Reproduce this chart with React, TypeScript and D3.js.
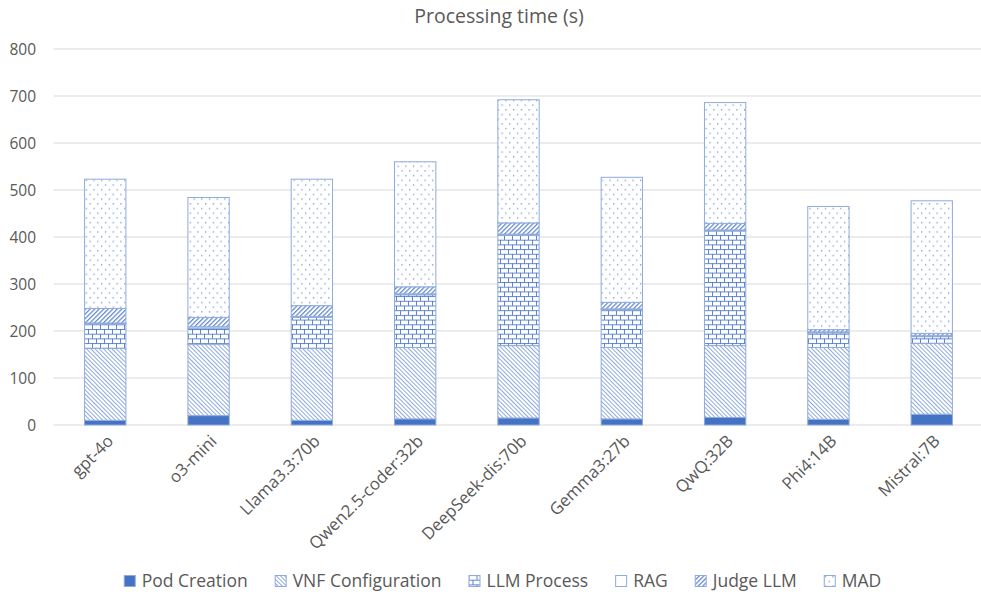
import React from "react";
import * as d3 from "d3";

// Processing time (seconds) per model, split by pipeline stage
const models = [
  "gpt-4o",
  "o3-mini",
  "Llama3.3:70b",
  "Qwen2.5-coder:32b",
  "DeepSeek-dis:70b",
  "Gemma3:27b",
  "QwQ:32B",
  "Phi4:14B",
  "Mistral:7B",
];

const stages = ["Pod Creation", "VNF Configuration", "LLM Process", "RAG", "Judge LLM", "MAD"];

const podCreation = [10, 20, 10, 13, 15, 13, 16, 12, 23];
const vnfConfiguration = [153, 152, 153, 152, 154, 152, 153, 153, 151];
const llmProcess = [52, 34, 66, 112, 235, 80, 244, 31, 14];
const rag = [2, 3, 2, 2, 2, 2, 2, 2, 2];
const judgeLlm = [31, 20, 23, 15, 24, 14, 14, 5, 5];
const mad = [275, 255, 269, 266, 262, 266, 257, 262, 282];

const yTicks = [0, 100, 200, 300, 400, 500, 600, 700, 800];

const W = 981;
const H = 597;
const FONT = "'Open Sans', 'DejaVu Sans', sans-serif";
const TEXT = "#595959";
const BLUE = "#4472C4";
const EDGE = "#8FAADC";

const rows = models.map((m, i) => ({
  model: m,
  "Pod Creation": podCreation[i],
  "VNF Configuration": vnfConfiguration[i],
  "LLM Process": llmProcess[i],
  RAG: rag[i],
  "Judge LLM": judgeLlm[i],
  MAD: mad[i],
}));

const fills: Record<string, string> = {
  "Pod Creation": BLUE,
  "VNF Configuration": "url(#pat-vnf)",
  "LLM Process": "url(#pat-brick)",
  RAG: "#ffffff",
  "Judge LLM": "url(#pat-judge)",
  MAD: "url(#pat-dots)",
};

function measure(text: string, size: number): number {
  if (typeof document === "undefined") return text.length * size * 0.55;
  const c = document.createElement("canvas").getContext("2d");
  if (!c) return text.length * size * 0.55;
  c.font = `${size}px 'Open Sans'`;
  return c.measureText(text).width;
}

export default function App() {
  const x = d3
    .scaleBand<string>()
    .domain(models)
    .range([53.6, 983.4])
    .paddingInner(0.6)
    .paddingOuter(0.3);
  const y = d3.scaleLinear().domain([0, 800]).range([425, 49]);

  const series = d3.stack<any>().keys(stages)(rows);

  // legend layout: marker, label, gap, centred under the plot
  const legendSize = 17.5;
  const marker = 12;
  const markerGap = 6;
  const itemGap = 27;
  const widths = stages.map((s) => measure(s, legendSize));
  const total =
    widths.reduce((a, b) => a + b, 0) + stages.length * (marker + markerGap) + (stages.length - 1) * itemGap;
  let cursor = 502.5 - total / 2;
  const legendItems = stages.map((s, i) => {
    const item = { key: s, x: cursor, w: widths[i] };
    cursor += marker + markerGap + widths[i] + itemGap;
    return item;
  });

  return (
    <div style={{ position: "fixed", left: 0, top: 0 }}>
      <svg width={W} height={H} style={{ display: "block", background: "#fff" }}>
        <defs>
          <pattern id="pat-vnf" patternUnits="userSpaceOnUse" width={3} height={3} patternTransform="rotate(-45)">
            <rect width={3} height={3} fill="#fff" />
            <rect x={0} y={0} width={1} height={3} fill={BLUE} fillOpacity={0.6} />
          </pattern>
          <pattern id="pat-judge" patternUnits="userSpaceOnUse" width={3.2} height={3.2} patternTransform="rotate(45)">
            <rect width={3.2} height={3.2} fill="#fff" />
            <rect x={0} y={0} width={1.3} height={3.2} fill={BLUE} fillOpacity={0.8} />
          </pattern>
          <pattern id="pat-brick" patternUnits="userSpaceOnUse" width={8} height={9.4}>
            <rect width={8} height={9.4} fill="#fff" />
            <rect x={0} y={0} width={8} height={1} fill={BLUE} fillOpacity={0.85} />
            <rect x={0} y={4.7} width={8} height={1} fill={BLUE} fillOpacity={0.85} />
            <rect x={0} y={0} width={1} height={4.7} fill={BLUE} fillOpacity={0.85} />
            <rect x={4} y={4.7} width={1} height={4.7} fill={BLUE} fillOpacity={0.85} />
          </pattern>
          <pattern id="pat-dots" patternUnits="userSpaceOnUse" width={7.7} height={9.4}>
            <rect width={7.7} height={9.4} fill="#fff" />
            <rect x={1} y={1} width={1.2} height={1.4} fill={BLUE} fillOpacity={0.75} />
            <rect x={4.85} y={5.7} width={1.2} height={1.4} fill={BLUE} fillOpacity={0.75} />
          </pattern>
        </defs>

        <text x={499} y={23} textAnchor="middle" fontFamily={FONT} fontSize={19.5} fill={TEXT}>
          Processing time (s)
        </text>

        {/* gridlines and value axis */}
        {yTicks.map((t) => (
          <g key={t}>
            <line x1={53.6} x2={983.4} y1={y(t)} y2={y(t)} stroke="#d9d9d9" strokeWidth={1} />
            <text
              x={36}
              y={y(t)}
              dy="0.36em"
              textAnchor="end"
              fontFamily={FONT}
              fontSize={15.5}
              fill={TEXT}
            >
              {t}
            </text>
          </g>
        ))}

        {/* stacked bars */}
        {series.map((s) => (
          <g key={s.key}>
            {s.map((d: any) => (
              <rect
                key={d.data.model}
                x={x(d.data.model)}
                width={x.bandwidth()}
                y={y(d[1])}
                height={Math.max(0, y(d[0]) - y(d[1]))}
                fill={fills[s.key]}
                stroke={EDGE}
                strokeWidth={1}
              />
            ))}
          </g>
        ))}

        {/* category labels */}
        {models.map((m) => {
          const cx = (x(m) as number) + x.bandwidth() / 2;
          return (
            <text
              key={m}
              transform={`translate(${cx + 5},${438}) rotate(-45)`}
              textAnchor="end"
              dy="0.35em"
              fontFamily={FONT}
              fontSize={16.8}
              fill={TEXT}
            >
              {m}
            </text>
          );
        })}

        {/* legend */}
        {legendItems.map((it) => (
          <g key={it.key} transform={`translate(${it.x},${575})`}>
            <rect x={0.5} y={0.5} width={marker - 1} height={marker - 1} fill={fills[it.key]} stroke={EDGE} strokeWidth={1} />
            <text
              x={marker + markerGap}
              y={marker / 2}
              dy="0.36em"
              fontFamily={FONT}
              fontSize={legendSize}
              fill={TEXT}
            >
              {it.key}
            </text>
          </g>
        ))}
      </svg>
    </div>
  );
}
